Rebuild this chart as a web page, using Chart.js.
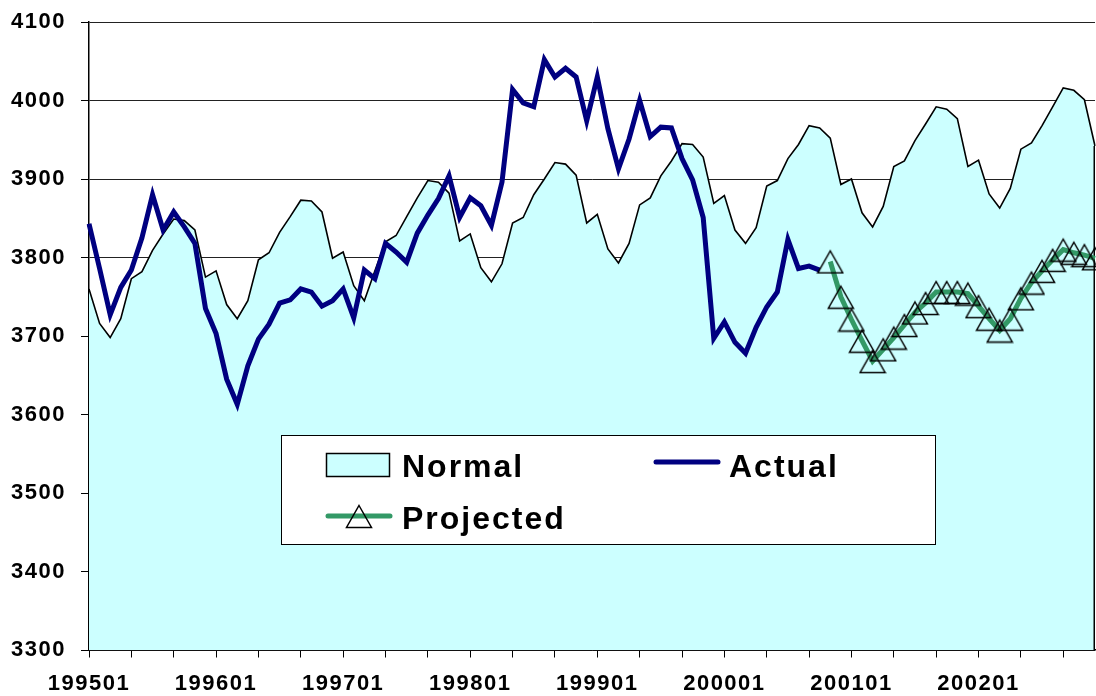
<!DOCTYPE html>
<html>
<head>
<meta charset="utf-8">
<title>Normal, Actual and Projected</title>
<script src="https://cdn.jsdelivr.net/npm/chart.js@4.4.1/dist/chart.umd.min.js"></script>
<style>
  html, body { margin: 0; padding: 0; background: #ffffff; overflow: hidden; }
  canvas { display: block; }
</style>
</head>
<body>
<canvas id="chart" width="1096" height="696"></canvas>
<script>
// Monthly periods, 1995-01 through 2002-12
const years = [1995, 1996, 1997, 1998, 1999, 2000, 2001, 2002];
const months = ['01', '02', '03', '04', '05', '06', '07', '08', '09', '10', '11', '12'];
const categories = [];
years.forEach(y => months.forEach(m => categories.push(String(y) + m)));

// Seasonal normal (area)
const normalValues = [
  3760, 3716, 3698, 3722, 3773, 3782, 3809, 3830, 3849, 3847, 3835, 3775,
  3783, 3740, 3722, 3745, 3797, 3806, 3832, 3852, 3873, 3872, 3858, 3799,
  3807, 3764, 3745, 3783, 3820, 3828, 3852, 3876, 3898, 3896, 3882, 3821,
  3830, 3787, 3769, 3792, 3844, 3851, 3880, 3900, 3921, 3919, 3905, 3844,
  3855, 3811, 3793, 3818, 3867, 3876, 3904, 3923, 3945, 3944, 3928, 3869,
  3879, 3835, 3818, 3838, 3891, 3898, 3926, 3944, 3968, 3965, 3952, 3893,
  3900, 3857, 3839, 3865, 3916, 3923, 3949, 3970, 3992, 3989, 3977, 3916,
  3924, 3881, 3863, 3888, 3938, 3946, 3968, 3992, 4016, 4013, 4001, 3942
];

// Observed values, 199501 - 200010
const actualValues = [
  3843, 3786, 3727, 3762, 3784, 3825, 3880, 3835, 3858, 3839, 3818, 3735,
  3703, 3645, 3613, 3662, 3696, 3715, 3742, 3746, 3760, 3756, 3738, 3745,
  3760, 3723, 3784, 3773, 3818, 3807, 3794, 3831, 3854, 3875, 3904, 3851,
  3876, 3866, 3841, 3896, 4014, 3997, 3992, 4052, 4030, 4041, 4030, 3974,
  4030, 3964, 3913, 3951, 4000, 3954, 3966, 3965, 3926, 3899, 3851, 3697,
  3718, 3692, 3678, 3711, 3737, 3756, 3823, 3786, 3789, 3784
];

// Projection, 200011 - 200212
const projectedStart = '200011';
const projectedValues = [
  3795, 3750, 3721, 3694, 3668, 3683, 3698, 3714, 3730, 3742, 3756, 3756,
  3756, 3754, 3738, 3722, 3707, 3722, 3748, 3768, 3783, 3797, 3810, 3806,
  3803, 3799
];

// Axis settings
const yMin = 3300, yMax = 4100, yStep = 100;
const labelEvery = 12, tickEvery = 4;

const FONT = '"Liberation Sans", Arial, Helvetica, sans-serif';
const NAVY = '#000080';
const GREEN = '#339966';
const AQUA = '#CCFFFF';

const startIdx = categories.indexOf(projectedStart);
const actualSeries = categories.map((_, i) => i < actualValues.length ? actualValues[i] : null);
const projectedSeries = categories.map((_, i) => i >= startIdx ? projectedValues[i - startIdx] : null);

// Hollow triangle marker centred on its point
function triangleMarker(w, h, lw) {
  const c = document.createElement('canvas');
  c.width = w; c.height = h;
  const g = c.getContext('2d');
  g.strokeStyle = '#000';
  g.lineWidth = lw;
  g.lineJoin = 'miter';
  g.beginPath();
  g.moveTo(w / 2, 2.5);
  g.lineTo(w - 1.5, h - 1.5);
  g.lineTo(1.5, h - 1.5);
  g.closePath();
  g.stroke();
  return c;
}
const marker = triangleMarker(28, 26, 1.5);

// Slightly spaced lettering for the axis labels
const spacing = {
  id: 'spacing',
  beforeDraw(chart) {
    try { chart.ctx.letterSpacing = '1.5px'; } catch (e) {}
  }
};

// Closes the right-hand edge of the normal area
const areaEdge = {
  id: 'areaEdge',
  afterDatasetDraw(chart, args) {
    if (chart.data.datasets[args.index].label !== 'Normal') return;
    const x = chart.scales.x, y = chart.scales.y;
    const last = normalValues.length - 1;
    const px = x.getPixelForValue(last);
    const ctx = chart.ctx;
    ctx.save();
    ctx.strokeStyle = '#000';
    ctx.lineWidth = 1.5;
    ctx.beginPath();
    ctx.moveTo(px - 0.75, y.getPixelForValue(normalValues[last]));
    ctx.lineTo(px - 0.75, y.getPixelForValue(yMin));
    ctx.stroke();
    ctx.restore();
  }
};

// Boxed legend laid out in two columns
const boxLegend = {
  id: 'boxLegend',
  afterDatasetsDraw(chart) {
    const ctx = chart.ctx;
    const ds = chart.data.datasets;
    const byLabel = l => ds.find(d => d.label === l);
    ctx.save();
    ctx.fillStyle = '#ffffff';
    ctx.fillRect(281, 435, 655, 110);
    ctx.strokeStyle = '#000';
    ctx.lineWidth = 1;
    ctx.strokeRect(281.5, 435.5, 654, 109);

    ctx.font = 'bold 32px ' + FONT;
    ctx.textBaseline = 'alphabetic';
    ctx.textAlign = 'left';
    ctx.fillStyle = '#000';
    try { ctx.letterSpacing = '2px'; } catch (e) {}

    // Normal
    const n = byLabel('Normal');
    ctx.fillStyle = n.backgroundColor;
    ctx.fillRect(326, 453, 64, 24);
    ctx.strokeStyle = '#000';
    ctx.lineWidth = 1.5;
    ctx.strokeRect(326.5, 453.5, 63, 23);
    ctx.fillStyle = '#000';
    ctx.fillText(n.label, 402, 477);

    // Actual
    const a = byLabel('Actual');
    ctx.strokeStyle = a.borderColor;
    ctx.lineWidth = 5;
    ctx.lineCap = 'round';
    ctx.beginPath();
    ctx.moveTo(656, 462); ctx.lineTo(718, 462);
    ctx.stroke();
    ctx.fillStyle = '#000';
    ctx.fillText(a.label, 729, 477);

    // Projected
    const p = byLabel('Projected');
    ctx.strokeStyle = p.borderColor;
    ctx.beginPath();
    ctx.moveTo(328, 516); ctx.lineTo(390, 516);
    ctx.stroke();
    ctx.drawImage(marker, 359 - marker.width / 2, 516 - marker.height / 2);
    ctx.fillStyle = '#000';
    ctx.fillText(p.label, 402, 529);
    ctx.restore();
  }
};

new Chart(document.getElementById('chart'), {
  type: 'line',
  data: {
    labels: categories,
    datasets: [
      {
        label: 'Normal',
        data: normalValues,
        order: 3,
        fill: 'start',
        backgroundColor: AQUA,
        borderColor: '#000',
        borderWidth: 1.6,
        pointRadius: 0,
        tension: 0
      },
      {
        label: 'Actual',
        data: actualSeries,
        order: 2,
        fill: false,
        borderColor: NAVY,
        borderWidth: 5,
        pointRadius: 0,
        tension: 0
      },
      {
        label: 'Projected',
        data: projectedSeries,
        order: 1,
        fill: false,
        borderColor: GREEN,
        borderWidth: 5,
        pointStyle: marker,
        pointRadius: 12,
        tension: 0,
        clip: 20
      }
    ]
  },
  options: {
    responsive: false,
    devicePixelRatio: 1,
    animation: false,
    layout: { autoPadding: false, padding: { top: 22, right: 1, left: 0, bottom: 0 } },
    plugins: {
      legend: { display: false },
      tooltip: { enabled: false }
    },
    scales: {
      x: {
        type: 'category',
        offset: false,
        afterFit(scale) {
          scale.height = 46;
          scale.paddingLeft = 0;
          scale.paddingRight = 0;
        },
        grid: {
          drawOnChartArea: false,
          drawTicks: true,
          tickLength: 21,
          tickBorderDash: [7, 40],
          tickColor: ctx => (ctx.index % tickEvery === 0 ? '#000' : 'rgba(0,0,0,0)'),
          lineWidth: 1
        },
        border: { display: true, color: '#000', width: 1.5 },
        ticks: {
          autoSkip: false,
          maxRotation: 0,
          minRotation: 0,
          padding: 0,
          color: '#000',
          font: { family: FONT, size: 22, weight: 'bold' },
          callback(value, index) { return index % labelEvery === 0 ? categories[index] : ''; }
        }
      },
      y: {
        min: yMin,
        max: yMax,
        afterFit(scale) {
          scale.width = 89;
          scale.paddingTop = 0;
          scale.paddingBottom = 0;
        },
        grid: {
          color: '#222',
          lineWidth: 1,
          tickLength: 8,
          tickColor: '#000'
        },
        border: { display: true, color: '#000', width: 1.5 },
        ticks: {
          stepSize: yStep,
          padding: 15,
          color: '#000',
          font: { family: FONT, size: 22, weight: 'bold' },
          callback: v => String(v)
        }
      }
    }
  },
  plugins: [spacing, areaEdge, boxLegend]
});
</script>
</body>
</html>
